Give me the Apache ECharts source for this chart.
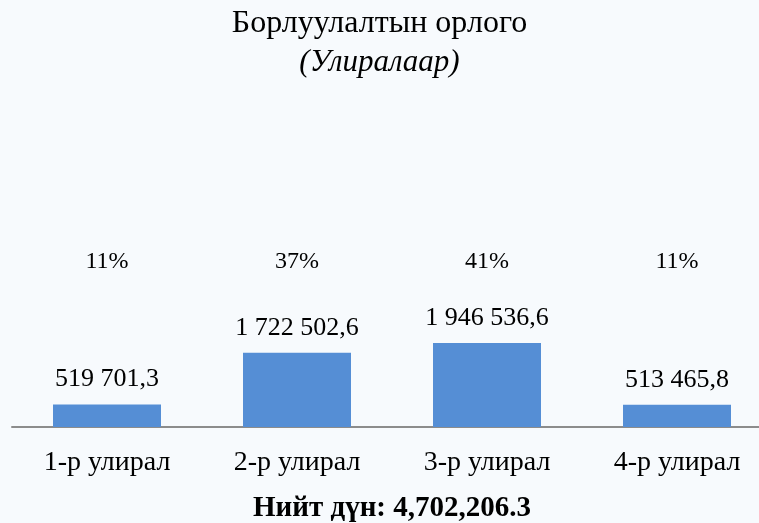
<!DOCTYPE html>
<html>
<head>
<meta charset="utf-8">
<script src="https://cdn.jsdelivr.net/npm/echarts@6/dist/echarts.min.js"></script>
<style>
html, body { margin: 0; padding: 0; background: #f7fafd; }
#main { width: 759px; height: 523px; }
</style>
</head>
<body>
<div id="main"></div>
<script>
var quarters = ['1-р улирал', '2-р улирал', '3-р улирал', '4-р улирал'];
var revenue = [519701.3, 1722502.6, 1946536.6, 513465.8];
var shares = ['11%', '37%', '41%', '11%'];

var serif = '"Liberation Serif", "DejaVu Serif", serif';

function fmtSpace(v) {
	var parts = v.toFixed(1).split('.');
	return parts[0].replace(/\B(?=(\d{3})+(?!\d))/g, ' ') + ',' + parts[1];
}

var total = revenue.reduce(function (a, b) { return a + b; }, 0);
var totalText = 'Нийт дүн: ' + total.toLocaleString('en-US', { minimumFractionDigits: 1, maximumFractionDigits: 1 });

var myChart = echarts.init(document.getElementById('main'));

option = {
	backgroundColor: '#f7fafd',
	textStyle: { fontFamily: serif },
	title: [
		{
			text: 'Борлуулалтын орлого',
			subtext: '(Улиралаар)',
			left: 'center',
			top: 3,
			itemGap: 7,
			textStyle: { fontFamily: serif, fontSize: 32, fontWeight: 'normal', color: '#000' },
			subtextStyle: { fontFamily: serif, fontSize: 31, fontStyle: 'italic', color: '#000' }
		},
		{
			text: totalText,
			left: 248,
			top: 489,
			textStyle: { fontFamily: serif, fontSize: 29, fontWeight: 'bold', color: '#000' }
		}
	],
	grid: [
		{ left: 12, width: 760, top: 82, bottom: 96, outerBoundsMode: 'none' },
		{ left: 12, width: 760, top: 252, height: 20, outerBoundsMode: 'none' }
	],
	xAxis: [
		{
			type: 'category',
			gridIndex: 0,
			data: quarters,
			axisLine: { lineStyle: { color: '#8c8c8c', width: 2 } },
			axisTick: { show: false },
			axisLabel: { color: '#000', fontSize: 28, margin: 22, fontFamily: serif }
		},
		{
			type: 'category',
			gridIndex: 1,
			data: quarters,
			show: false
		}
	],
	yAxis: [
		{
			type: 'value',
			gridIndex: 0,
			min: 0,
			max: 8000000,
			show: false
		},
		{
			type: 'category',
			gridIndex: 1,
			data: ['share'],
			show: false
		}
	],
	series: [
		{
			type: 'bar',
			xAxisIndex: 0,
			yAxisIndex: 0,
			data: revenue,
			barWidth: 108,
			itemStyle: { color: '#558ed5' },
			label: {
				show: true,
				position: 'top',
				distance: 12,
				color: '#000',
				fontSize: 26,
				fontFamily: serif,
				formatter: function (p) { return fmtSpace(p.value); }
			}
		},
		{
			type: 'scatter',
			xAxisIndex: 1,
			yAxisIndex: 1,
			symbolSize: 0,
			silent: true,
			itemStyle: { opacity: 1 },
			data: quarters.map(function (q, i) { return [q, 'share', shares[i]]; }),
			label: {
				show: true,
				position: 'inside',
				color: '#000',
				textBorderWidth: 0,
				fontSize: 24,
				fontFamily: serif,
				formatter: function (p) { return p.value[2]; }
			}
		}
	]
};

myChart.setOption(option);
</script>
</body>
</html>
